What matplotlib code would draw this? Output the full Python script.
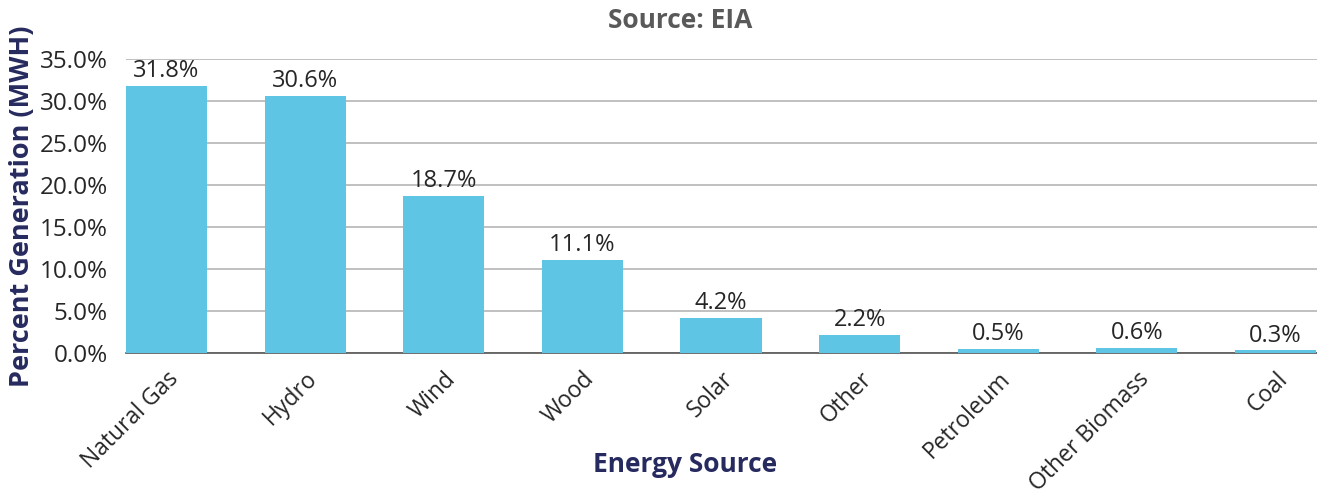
import numpy as np
import matplotlib
matplotlib.use("Agg")
import matplotlib.pyplot as plt
from matplotlib.ticker import FuncFormatter

plt.rcParams["font.family"] = ["Open Sans", "DejaVu Sans"]

categories = ["Natural Gas", "Hydro", "Wind", "Wood", "Solar", "Other",
              "Petroleum", "Other Biomass", "Coal"]
shares = [31.8, 30.6, 18.7, 11.1, 4.2, 2.2, 0.5, 0.6, 0.3]

BAR = "#5ec6e4"
NAVY = "#262a5e"
TXT = "#262626"

fig = plt.figure(figsize=(13.17, 4.98), dpi=100)
ax = fig.add_axes([126 / 1317, 1 - 353 / 498, 1 - 126 / 1317, (353 - 59) / 498])

x = np.arange(len(categories))
bars = ax.bar(x, shares, width=0.585, color=BAR, zorder=3)
for b, v in zip(bars, shares):
    ax.text(b.get_x() + b.get_width() / 2, v + 0.35, f"{v:.1f}%",
            ha="center", va="bottom", fontsize=17, color=TXT)

ax.set_xlim(-0.2925, 8.30)
ax.set_ylim(0, 35)
ax.set_yticks(np.arange(0, 36, 5))
ax.yaxis.set_major_formatter(FuncFormatter(lambda v, _: f"{v:.1f}%"))
ax.grid(axis="y", color="#b5b5b5", lw=1.2, zorder=0)
ax.set_xticks(x)
ax.set_xticklabels(categories, rotation=45, ha="right", rotation_mode="anchor")
ax.tick_params(axis="both", length=0, colors=TXT)
ax.tick_params(axis="x", pad=10, labelsize=16.5)
ax.tick_params(axis="y", pad=13, labelsize=17.5)
for s in ("top", "right", "left"):
    ax.spines[s].set_visible(False)
ax.spines["bottom"].set_color("#555555")
ax.spines["bottom"].set_linewidth(1.2)

ax.set_ylabel("Percent Generation (MWH)", fontsize=19.5, fontweight="bold", color=NAVY)
ax.yaxis.set_label_coords(-0.076, 0.5)
ax.set_xlabel("Energy Source", fontsize=19, fontweight="bold", color=NAVY)
ax.xaxis.set_label_coords((685 - 126) / (1317 - 126), -(451 - 353) / (353 - 59))

fig.text(680 / 1317, 1 - 20 / 498, "Source: EIA", ha="center", va="center",
         fontsize=19, fontweight="bold", color="#595959")

fig.savefig("out.png", dpi=100)
